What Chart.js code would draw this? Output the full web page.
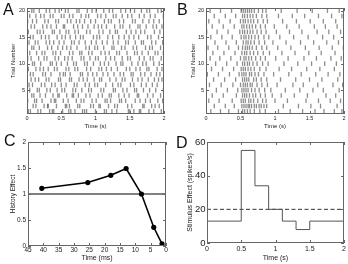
<!DOCTYPE html>
<html><head><meta charset="utf-8">
<script src="https://cdn.jsdelivr.net/npm/chart.js@4.4.0/dist/chart.umd.min.js"></script>
<style>
html,body{margin:0;padding:0;background:#fff;}
#wrap{position:relative;width:348px;height:264px;overflow:hidden;background:#fff;font-family:"Liberation Sans",Arial,sans-serif;}
canvas{position:absolute;}
.lbl{position:absolute;font-size:16px;line-height:16px;color:#111;}
</style></head><body>
<div id="wrap">
<canvas id="cA" width="174" height="132" style="left:0;top:0"></canvas>
<canvas id="cB" width="174" height="132" style="left:174px;top:0"></canvas>
<canvas id="cC" width="174" height="132" style="left:0;top:132px"></canvas>
<canvas id="cD" width="174" height="132" style="left:174px;top:132px"></canvas>
<div class="lbl" style="left:3px;top:2px">A</div>
<div class="lbl" style="left:177px;top:2px">B</div>
<div class="lbl" style="left:4px;top:133px">C</div>
<div class="lbl" style="left:176px;top:135px">D</div>
</div>
<script>
// ---------- data ----------
const timeTicks = [0, 0.5, 1, 1.5, 2];
const trialTicks = [5, 10, 15, 20];

// Panel A: spike times (s), trial 1 (bottom) .. trial 20 (top)
const spikesA = [
 [0.02,0.05,0.16,0.20,0.33,0.37,0.39,0.52,0.61,0.64,0.70,0.81,0.84,0.87,1.00,1.13,1.16,1.24,1.31,1.48,1.50,1.56,1.64,1.66,1.78,1.85,1.96],
 [0.09,0.13,0.25,0.30,0.31,0.43,0.56,0.58,0.62,0.74,0.77,0.93,0.97,1.05,1.07,1.19,1.28,1.32,1.47,1.53,1.69,1.71,1.82,1.87,1.93],
 [0.01,0.11,0.14,0.22,0.35,0.40,0.42,0.53,0.60,0.72,0.79,0.83,0.95,1.01,1.14,1.17,1.22,1.35,1.38,1.44,1.58,1.65,1.73,1.80,1.91,1.98],
 [0.07,0.10,0.19,0.27,0.38,0.45,0.47,0.58,0.66,0.68,0.75,0.86,0.92,1.04,1.10,1.20,1.23,1.34,1.42,1.49,1.61,1.63,1.76,1.84,1.95],
 [0.04,0.15,0.18,0.29,0.34,0.44,0.51,0.55,0.67,0.71,0.80,0.90,0.94,1.08,1.12,1.26,1.29,1.40,1.46,1.57,1.60,1.70,1.79,1.88,1.99],
 [0.03,0.08,0.21,0.26,0.36,0.41,0.50,0.57,0.69,0.73,0.85,0.91,0.99,1.03,1.15,1.25,1.33,1.37,1.51,1.56,1.67,1.74,1.83,1.90],
 [0.06,0.12,0.17,0.28,0.32,0.46,0.49,0.62,0.65,0.76,0.82,0.88,0.98,1.06,1.09,1.21,1.30,1.39,1.43,1.54,1.62,1.68,1.77,1.86,1.92,1.97],
 [0.05,0.09,0.23,0.27,0.35,0.48,0.53,0.56,0.63,0.78,0.81,0.89,0.96,1.02,1.11,1.18,1.27,1.36,1.41,1.52,1.55,1.66,1.72,1.81,1.89,1.94],
 [0.02,0.13,0.19,0.24,0.31,0.40,0.44,0.57,0.61,0.70,0.74,0.87,0.93,1.05,1.09,1.16,1.23,1.32,1.45,1.50,1.59,1.65,1.75,1.78,1.90,1.97],
 [0.08,0.11,0.20,0.34,0.37,0.43,0.50,0.59,0.68,0.72,0.84,0.88,0.97,1.07,1.13,1.19,1.30,1.37,1.40,1.53,1.62,1.69,1.74,1.85,1.93],
 [0.01,0.06,0.17,0.25,0.29,0.41,0.46,0.55,0.60,0.66,0.79,0.83,0.92,1.00,1.04,1.15,1.22,1.28,1.39,1.47,1.51,1.64,1.71,1.80,1.84,1.96],
 [0.04,0.14,0.22,0.26,0.38,0.42,0.49,0.62,0.67,0.77,0.80,0.90,0.95,1.08,1.14,1.20,1.31,1.35,1.46,1.57,1.61,1.68,1.77,1.87,1.91,1.99],
 [0.07,0.10,0.18,0.30,0.36,0.45,0.52,0.58,0.64,0.73,0.86,0.91,0.99,1.03,1.12,1.24,1.27,1.38,1.43,1.55,1.60,1.73,1.79,1.83,1.95],
 [0.03,0.12,0.16,0.28,0.33,0.39,0.47,0.54,0.65,0.69,0.76,0.85,0.94,1.01,1.10,1.17,1.26,1.33,1.44,1.48,1.58,1.67,1.70,1.82,1.88,1.98],
 [0.05,0.09,0.21,0.27,0.32,0.44,0.51,0.56,0.63,0.71,0.78,0.82,0.97,1.02,1.06,1.18,1.25,1.34,1.42,1.49,1.56,1.63,1.76,1.81,1.92],
 [0.02,0.15,0.19,0.24,0.37,0.40,0.48,0.57,0.61,0.70,0.75,0.87,0.92,1.05,1.11,1.21,1.29,1.32,1.45,1.52,1.59,1.66,1.72,1.86,1.94],
 [0.06,0.11,0.23,0.29,0.35,0.43,0.53,0.55,0.68,0.74,0.81,0.89,0.98,1.04,1.09,1.16,1.28,1.36,1.40,1.50,1.62,1.65,1.74,1.84,1.89,1.97],
 [0.01,0.08,0.14,0.26,0.31,0.42,0.46,0.59,0.64,0.72,0.77,0.84,0.93,1.00,1.13,1.19,1.23,1.35,1.41,1.54,1.58,1.69,1.78,1.85,1.93],
 [0.04,0.13,0.20,0.25,0.34,0.38,0.50,0.54,0.62,0.67,0.79,0.86,0.90,1.03,1.08,1.15,1.26,1.30,1.39,1.47,1.53,1.64,1.71,1.80,1.87,1.99],
 [0.07,0.10,0.18,0.28,0.33,0.41,0.47,0.56,0.60,0.73,0.76,0.88,0.95,1.01,1.12,1.20,1.25,1.37,1.44,1.51,1.57,1.67,1.75,1.79,1.91,1.96]
];

// Panel B: spike times (s), trial 1 (bottom) .. trial 20 (top)
const spikesB = [
 [0.07,0.21,0.33,0.47,0.53,0.56,0.60,0.64,0.70,0.78,0.86,1.05,1.22,1.40,1.58,1.71,1.86,1.97],
 [0.12,0.28,0.41,0.52,0.55,0.58,0.61,0.63,0.66,0.70,0.73,0.77,0.80,0.84,0.88,1.12,1.34,1.52,1.66,1.90],
 [0.04,0.19,0.38,0.51,0.54,0.57,0.62,0.65,0.69,0.75,0.82,0.87,1.00,1.18,1.45,1.63,1.80,1.95],
 [0.09,0.25,0.44,0.53,0.56,0.59,0.63,0.68,0.72,0.79,0.86,0.96,1.09,1.28,1.47,1.74,1.88],
 [0.15,0.31,0.46,0.52,0.55,0.58,0.61,0.66,0.71,0.77,0.85,0.94,1.15,1.36,1.55,1.70,1.93],
 [0.05,0.22,0.39,0.50,0.54,0.57,0.60,0.64,0.67,0.74,0.81,0.89,1.03,1.26,1.41,1.62,1.84,1.98],
 [0.11,0.27,0.43,0.53,0.56,0.59,0.62,0.69,0.73,0.80,0.88,1.08,1.30,1.50,1.68,1.91],
 [0.02,0.18,0.34,0.48,0.52,0.55,0.58,0.63,0.66,0.71,0.76,0.84,0.98,1.20,1.38,1.59,1.77,1.94],
 [0.08,0.24,0.40,0.51,0.54,0.57,0.61,0.65,0.70,0.78,0.87,1.06,1.24,1.46,1.65,1.86],
 [0.14,0.30,0.45,0.53,0.56,0.60,0.63,0.68,0.74,0.82,0.90,1.13,1.33,1.53,1.72,1.89],
 [0.06,0.20,0.36,0.50,0.55,0.58,0.62,0.66,0.72,0.79,0.86,1.01,1.19,1.42,1.60,1.81,1.96],
 [0.10,0.26,0.42,0.52,0.56,0.59,0.64,0.69,0.75,0.83,0.92,1.10,1.29,1.49,1.67,1.87],
 [0.03,0.17,0.33,0.47,0.53,0.57,0.60,0.63,0.67,0.73,0.81,0.88,1.04,1.23,1.44,1.64,1.83,1.99],
 [0.13,0.29,0.44,0.54,0.58,0.61,0.65,0.70,0.77,0.85,0.97,1.16,1.37,1.56,1.75,1.92],
 [0.07,0.23,0.38,0.51,0.55,0.58,0.62,0.66,0.71,0.76,0.84,0.91,1.07,1.27,1.48,1.69,1.85],
 [0.01,0.16,0.32,0.49,0.53,0.56,0.60,0.64,0.68,0.74,0.80,0.87,1.02,1.21,1.39,1.61,1.78,1.95],
 [0.09,0.25,0.41,0.52,0.55,0.59,0.63,0.67,0.72,0.79,0.86,0.99,1.17,1.35,1.57,1.73,1.90],
 [0.04,0.19,0.35,0.50,0.54,0.57,0.61,0.65,0.69,0.75,0.83,0.89,1.11,1.31,1.51,1.70,1.88],
 [0.12,0.28,0.43,0.53,0.56,0.60,0.64,0.68,0.73,0.81,0.88,1.05,1.25,1.43,1.63,1.82,1.97],
 [0.06,0.21,0.37,0.51,0.54,0.57,0.60,0.63,0.66,0.70,0.76,0.82,0.87,1.09,1.32,1.54,1.76,1.93]
];

// Panel C: history effect
const historyLagMs = [40.5, 25.5, 18, 13, 8, 4, 1.3];
const historyEffect = [1.11, 1.22, 1.36, 1.49, 1.0, 0.36, 0.04];
const historyRef = 1;
const lagTicks = [0, 5, 10, 15, 20, 25, 30, 35, 40, 45];
const effectTicks = [0, 0.5, 1, 1.5, 2];

// Panel D: stimulus effect (step starts)
const stimTime = [0, 0.5, 0.7, 0.9, 1.1, 1.3, 1.5, 2];
const stimEffect = [13, 55, 34, 20, 13, 8, 13, 13];
const stimBaseline = 20;
const stimTicks = [0, 20, 40, 60];

// ---------- drawing ----------
const FF = '"Liberation Sans", Arial, sans-serif';
const INK = '#222';

const boxPlugin = {
  id: 'box',
  afterDatasetsDraw(chart) {
    const {ctx, chartArea: a, scales: {x, y}} = chart;
    ctx.save();
    ctx.strokeStyle = '#666';
    ctx.lineWidth = 1;
    ctx.strokeRect(a.left + 0.5, a.top + 0.5, a.right - a.left - 1, a.bottom - a.top - 1);
    ctx.beginPath();
    x.ticks.forEach(t => {
      const p = Math.round(x.getPixelForValue(t.value)) + 0.5;
      ctx.moveTo(p, a.bottom); ctx.lineTo(p, a.bottom - 3);
      ctx.moveTo(p, a.top); ctx.lineTo(p, a.top + 3);
    });
    y.ticks.forEach(t => {
      const p = Math.round(y.getPixelForValue(t.value)) + 0.5;
      ctx.moveTo(a.left, p); ctx.lineTo(a.left + 3, p);
      ctx.moveTo(a.right, p); ctx.lineTo(a.right - 3, p);
    });
    ctx.stroke();
    ctx.restore();
  }
};

function axis(o) {
  return {
    type: 'linear', min: o.min, max: o.max, reverse: !!o.reverse,
    afterBuildTicks: s => { s.ticks = o.ticks.map(v => ({value: v})); },
    afterFit: s => { if (o.h) s.height = o.size; else s.width = o.size; },
    grid: {display: false, drawTicks: false},
    border: {display: false},
    ticks: {color: INK, font: {size: o.fs, family: FF}, padding: o.tp, maxRotation: 0, autoSkip: false,
            callback: v => String(v)},
    title: {display: true, text: o.title, color: INK, font: {size: o.ts, family: FF},
            padding: o.h ? {top: 0, bottom: o.tpad} : {top: o.tpad, bottom: 0}}
  };
}

function rasterData(trials) {
  const pts = [];
  trials.forEach((arr, i) => arr.forEach(t => pts.push({x: t, y: i + 1})));
  return pts;
}

function baseOpts(pad, scales) {
  return {
    responsive: false, animation: false, devicePixelRatio: 1,
    layout: {padding: pad},
    plugins: {legend: {display: false}, tooltip: {enabled: false}},
    scales
  };
}

function raster(id, trials, ywidth, ytpad, padRight) {
  new Chart(document.getElementById(id), {
    type: 'scatter',
    data: {datasets: [{
      data: rasterData(trials),
      pointStyle: 'line', rotation: 90, pointRadius: 2.3,
      pointBorderColor: 'rgba(30,30,30,0.5)', pointBorderWidth: 1.3, pointHoverRadius: 2.3
    }]},
    options: baseOpts({left: 0, top: 8, right: padRight, bottom: 0}, {
      x: axis({min: 0, max: 2, ticks: timeTicks, h: true, size: 18, fs: 5.5, tp: 1, title: 'Time (s)', ts: 6, tpad: 2.5}),
      y: axis({min: 0.5, max: 20.5, ticks: trialTicks, size: ywidth, fs: 5.5, tp: 2, title: 'Trial Number', ts: 6, tpad: ytpad})
    }),
    plugins: [boxPlugin]
  });
}

raster('cA', spikesA, 27, 9.7, 10);
raster('cB', spikesB, 32, 15.4, 4);

// Panel C
new Chart(document.getElementById('cC'), {
  type: 'scatter',
  data: {datasets: [
    {data: historyLagMs.map((v, i) => ({x: v, y: historyEffect[i]})), showLine: true,
     borderColor: '#000', borderWidth: 1.6, pointRadius: 1.8, pointBackgroundColor: '#000', pointBorderColor: '#000'},
    {data: [{x: 45, y: historyRef}, {x: 0, y: historyRef}], showLine: true,
     borderColor: '#000', borderWidth: 1, pointRadius: 0}
  ]},
  options: baseOpts({left: 0, top: 10, right: 8, bottom: 0}, {
    x: axis({min: 0, max: 45, reverse: true, ticks: lagTicks, h: true, size: 18, fs: 6.5, tp: 0.5, title: 'Time (ms)', ts: 7, tpad: 1.8}),
    y: axis({min: 0, max: 2, ticks: effectTicks, size: 28, fs: 6.5, tp: 2, title: 'History Effect', ts: 6.5, tpad: 9.1})
  }),
  plugins: [boxPlugin]
});

// Panel D
new Chart(document.getElementById('cD'), {
  type: 'scatter',
  data: {datasets: [
    {data: stimTime.map((t, i) => ({x: t, y: stimEffect[i]})), showLine: true, stepped: true,
     borderColor: '#555', borderWidth: 1, pointRadius: 0},
    {data: [{x: 0, y: stimBaseline}, {x: 2, y: stimBaseline}], showLine: true,
     borderColor: '#333', borderWidth: 1, borderDash: [4, 2.5], pointRadius: 0}
  ]},
  options: baseOpts({left: 0, top: 10, right: 4, bottom: 0}, {
    x: axis({min: 0, max: 2, ticks: timeTicks, h: true, size: 21, fs: 7, tp: 1.8, title: 'Time (s)', ts: 7, tpad: 1.8}),
    y: axis({min: 0, max: 60, ticks: stimTicks, size: 33, fs: 9.5, tp: 1.5, title: 'Stimulus Effect (spikes/s)', ts: 7, tpad: 11.8})
  }),
  plugins: [boxPlugin]
});
</script>
</body></html>
